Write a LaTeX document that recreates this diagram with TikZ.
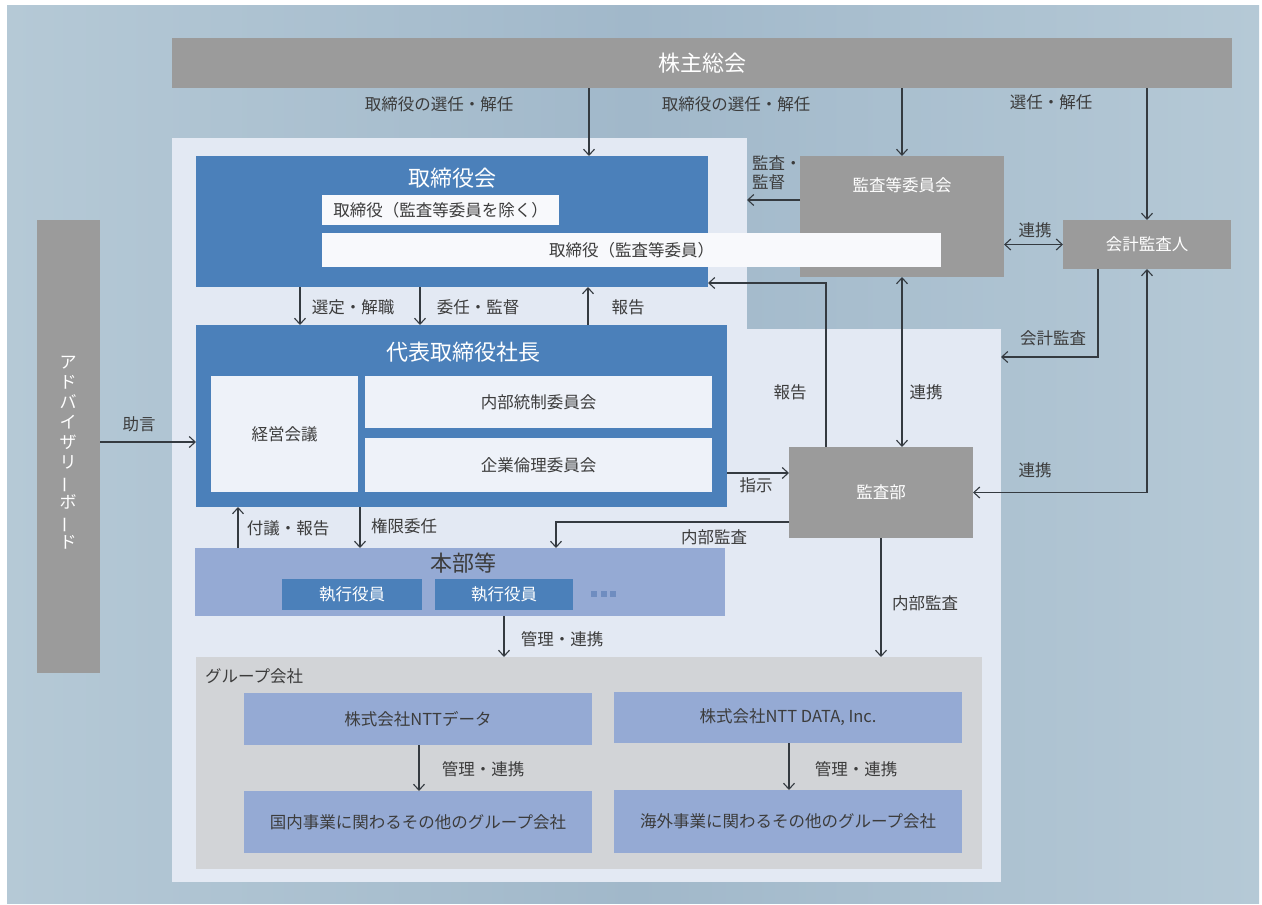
\documentclass[tikz,border=0pt]{standalone}
\usepackage{fontspec}
\setmainfont{Noto Sans CJK JP}
\usetikzlibrary{arrows.meta}

\definecolor{cbgA}{HTML}{B5C9D6}
\definecolor{cbgB}{HTML}{A1B8CA}
\definecolor{cgrey}{HTML}{9B9B9B}
\definecolor{cblue}{HTML}{4B80BA}
\definecolor{cpanel}{HTML}{E3E9F3}
\definecolor{cpale}{HTML}{EEF2F9}
\definecolor{cwhite}{HTML}{F8F9FC}
\definecolor{cperi}{HTML}{95AAD4}
\definecolor{cgroup}{HTML}{D2D4D7}
\definecolor{cdots}{HTML}{6F8DC0}
\definecolor{ctext}{HTML}{3C3C3C}
\definecolor{cline}{HTML}{343A40}

\newcommand{\vbar}{\rotatebox[origin=c]{90}{ー}}

\begin{document}
\begin{tikzpicture}[x=1pt, y=-1pt,
  every node/.style={inner sep=0pt, outer sep=0pt, text=ctext, font=\fontsize{16.5}{19}\selectfont},
  box/.style n args={3}{fill=#1, minimum width=#2, minimum height=#3},
  title/.style={font=\fontsize{22}{26}\selectfont},
  arr/.style={draw=cline, line width=1.1pt, -{Straight Barb[length=6pt,width=11pt]}},
  both/.style={arr, {Straight Barb[length=6pt,width=11pt]}-{Straight Barb[length=6pt,width=11pt]}}]
\useasboundingbox (0,0) rectangle (1262,905);

% background and panels
\fill[left color=cbgA, right color=cbgA, middle color=cbgB] (7,5) rectangle (1259,903);
\node[box={cpanel}{575pt}{200pt}] (panelA) at (459.5,238) {};
\node[box={cpanel}{829pt}{553pt}] (panelB) at (586.5,605.5) {};

% top row
\node[box={cgrey}{1060pt}{50pt}, title, text=white] (kabu) at (702,63) {株主総会};
\node[box={cblue}{512pt}{131pt}] (torikai) at (452,221.5) {};
\node[title, text=white] (torikaiT) at (452,178) {取締役会};
\node[box={cgrey}{204pt}{121pt}] (kansa) at (902,216.5) {};
\node[text=white] (kansaT) at (902,185) {監査等委員会};
\node[box={cwhite}{237pt}{30pt}] (torikaiA) at (440.5,210) {取締役（監査等委員を除く）};
\node[box={cwhite}{619pt}{34pt}] (torikaiB) at (631.5,250) {取締役（監査等委員）};
\node[box={cgrey}{168pt}{49pt}, text=white] (kaikei) at (1147,244.5) {会計監査人};

% president
\node[box={cblue}{531pt}{182pt}] (shacho) at (461.5,416) {};
\node[title, text=white] (shachoT) at (463,352) {代表取締役社長};
\node[box={cpale}{147pt}{116pt}] (keiei) at (284.5,434) {経営会議};
\node[box={cpale}{347pt}{52pt}] (naibu) at (538.5,402) {内部統制委員会};
\node[box={cpale}{347pt}{54pt}] (rinri) at (538.5,465) {企業倫理委員会};
\node[box={cgrey}{184pt}{91pt}, text=white] (kansabu) at (881,492.5) {監査部};

% advisory board
\node[box={cgrey}{63pt}{453pt}] (advisory) at (68.5,446.5) {};
\node[text=white, align=center, font=\fontsize{17}{20}\selectfont] (advisoryT) at (68,453)
  {ア\\ド\\バ\\イ\\ザ\\リ\\\vbar\\ボ\\\vbar\\ド};

% headquarters
\node[box={cperi}{530pt}{68pt}] (honbu) at (460,582) {};
\node[title] (honbuT) at (463,563) {本部等};
\node[box={cblue}{140pt}{31pt}, text=white] (execA) at (352,594.5) {執行役員};
\node[box={cblue}{138pt}{31pt}, text=white] (execB) at (504,594.5) {執行役員};
\foreach \i in {0,1,2}
  \fill[cdots] (591+\i*9.5,591) rectangle +(6,6);

% group companies
\node[box={cgroup}{786pt}{212pt}] (group) at (589,763) {};
\node[anchor=west] (groupT) at (205,676) {グループ会社};
\node[box={cperi}{348pt}{52pt}] (nttd) at (418,719) {株式会社NTTデータ};
\node[box={cperi}{348pt}{51pt}] (nttinc) at (788,717.5) {株式会社NTT DATA, Inc.};
\node[box={cperi}{348pt}{62pt}] (kokunai) at (418,822) {国内事業に関わるその他のグループ会社};
\node[box={cperi}{348pt}{63pt}] (kaigai) at (788,821.5) {海外事業に関わるその他のグループ会社};

% connectors
\draw[arr] (kabu.south -| 589,0) -- (torikai.north -| 589,0);
\draw[arr] (kabu.south -| kansa.north) -- (kansa.north);
\draw[arr] (kabu.south -| kaikei.north) -- (kaikei.north);
\draw[arr] (kansa.west |- 0,200) -- (panelA.east |- 0,200);
\draw[both] (kansa.east |- kaikei.west) -- (kaikei.west);
\draw[arr] (kansabu.north -| 826,0) |- ([yshift=4pt]torikai.south east);
\draw[both] (kansa.south) -- (kansabu.north -| kansa.south);
\draw[arr] (kaikei.south -| 1098,0) |- (panelB.east |- 0,357);
\draw[both] (kaikei.south) |- (kansabu.east);
\draw[arr] (shacho.east |- 0,473) -- (kansabu.west |- 0,473);
\draw[arr] (kansabu.west |- 0,522) -| (honbu.north -| 556,0);
\draw[arr] (kansabu.south) -- (kansabu.south |- group.north);
\draw[arr] (torikai.south -| 300,0) -- (shacho.north -| 300,0);
\draw[arr] (torikai.south -| 420,0) -- (shacho.north -| 420,0);
\draw[arr] (shacho.north -| 588,0) -- (torikai.south -| 588,0);
\draw[arr] (advisory.east |- 0,442) -- (shacho.west |- 0,442);
\draw[arr] (honbu.north -| 238,0) -- (shacho.south -| 238,0);
\draw[arr] (shacho.south -| 360,0) -- (honbu.north -| 360,0);
\draw[arr] (honbu.south -| 504,0) -- (group.north -| 504,0);
\draw[arr] (nttd.south -| 419,0) -- (kokunai.north -| 419,0);
\draw[arr] (nttinc.south -| 789,0) -- (kaigai.north -| 789,0);

% labels
\node (lblSelA) at (439,104) {取締役の選任・解任};
\node (lblSelB) at (736,104) {取締役の選任・解任};
\node (lblSelC) at (1051,102) {選任・解任};
\node[anchor=west, align=left, font=\fontsize{16.5}{19}\selectfont] (lblAudit) at (752,173) {監査・\\監督};
\node (lblLinkA) at (1035,230) {連携};
\node (lblRepA) at (790,392) {報告};
\node (lblLinkB) at (926,392) {連携};
\node (lblAcct) at (1053,338) {会計監査};
\node (lblLinkC) at (1035,470) {連携};
\node (lblInstr) at (756,485) {指示};
\node (lblIntA) at (714,537) {内部監査};
\node (lblIntB) at (925,603) {内部監査};
\node (lblChoose) at (353,307) {選定・解職};
\node (lblDeleg) at (478,307) {委任・監督};
\node (lblRepB) at (628,307) {報告};
\node (lblAdvice) at (139,424) {助言};
\node (lblPropose) at (288,528) {付議・報告};
\node (lblAuth) at (404,526) {権限委任};
\node (lblMgmtA) at (562,639) {管理・連携};
\node (lblMgmtB) at (483,769) {管理・連携};
\node (lblMgmtC) at (856,769) {管理・連携};
\end{tikzpicture}
\end{document}
